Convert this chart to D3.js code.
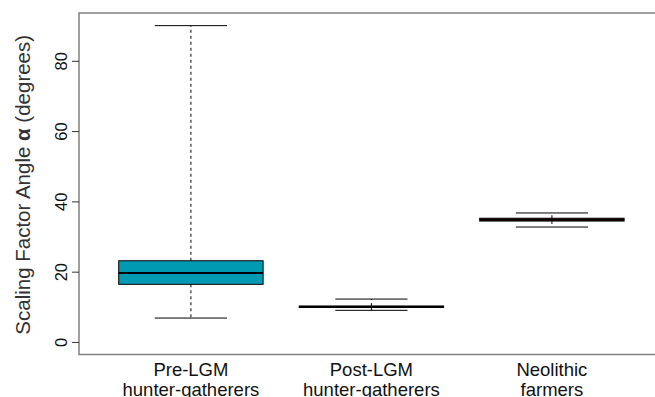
<!DOCTYPE html>
<html>
<head>
<meta charset="utf-8">
<script src="https://cdn.jsdelivr.net/npm/d3@7"></script>
<style>
  body { margin: 0; background: #fff; }
  svg { display: block; font-family: "Liberation Sans", Arial, Helvetica, sans-serif; }
</style>
</head>
<body>
<div id="chart"></div>
<script>
// groups on the x axis (two label lines each)
const groups = ["Pre-LGM", "Post-LGM", "Neolithic"];
const groupLine2 = ["hunter-gatherers", "hunter-gatherers", "farmers"];
// boxplot stats (degrees)
const whiskerLow = [6.8, 9.0, 32.7];
const q1 = [16.4, 9.8, 34.4];
const median = [19.6, 10.0, 34.8];
const q3 = [23.1, 10.2, 35.2];
const whiskerHigh = [90, 12.2, 36.7];
const fills = ["#009bb3", "#e3a11c", "#8e1212"];
const yTicks = [0, 20, 40, 60, 80];

const width = 655, height = 397;
const frame = { left: 79, top: 13, bottom: 354.6 };

const svg = d3.select("#chart").append("svg")
  .attr("width", width)
  .attr("height", height);

// R style: data range padded by 4% on each side
const x = d3.scaleLinear().domain([0.38, 3.62]).range([frame.left, frame.left + 3.24 * 180.5]);
const y = d3.scaleLinear().domain([-3.6, 93.6]).range([frame.bottom, frame.top]);

const data = groups.map((g, i) => ({
  i: i + 1, lo: whiskerLow[i], q1: q1[i], med: median[i], q3: q3[i], hi: whiskerHigh[i], fill: fills[i]
}));

// frame (right side is off the page)
svg.append("path")
  .attr("d", `M${width + 5},${frame.top}H${frame.left}V${frame.bottom}H${width + 5}`)
  .attr("fill", "none")
  .attr("stroke", "#808080")
  .attr("stroke-width", 1.5);

// y axis with rotated labels
const gy = svg.append("g")
  .attr("transform", `translate(${frame.left},0)`)
  .call(d3.axisLeft(y).tickValues(yTicks).tickSize(7).tickSizeOuter(0));
gy.select(".domain").remove();
gy.selectAll(".tick line").attr("stroke", "#333");
gy.selectAll(".tick text")
  .attr("x", 0).attr("y", -12).attr("dy", 0)
  .attr("transform", "rotate(-90)")
  .attr("text-anchor", "middle")
  .attr("font-size", 16.5)
  .attr("fill", "#111");

// y title
const title = svg.append("text")
  .attr("transform", `translate(30,${(frame.top + frame.bottom) / 2 + 1}) rotate(-90)`)
  .attr("text-anchor", "middle")
  .attr("font-size", 20.5)
  .attr("fill", "#333");
title.append("tspan").text("Scaling Factor Angle ");
title.append("tspan").attr("font-weight", "bold").text("α");
title.append("tspan").text(" (degrees)");

// x labels
const gx = svg.append("g");
gx.selectAll("text.l1").data(groups).join("text")
  .attr("class", "l1")
  .attr("x", (d, i) => x(i + 1)).attr("y", 376)
  .attr("text-anchor", "middle").attr("font-size", 18.5)
  .attr("fill", "#111")
  .text(d => d);
gx.selectAll("text.l2").data(groupLine2).join("text")
  .attr("class", "l2")
  .attr("x", (d, i) => x(i + 1)).attr("y", 396)
  .attr("text-anchor", "middle").attr("font-size", 18.5)
  .attr("fill", "#111")
  .text(d => d);

const boxW = 0.8, capW = 0.4;
const boxes = svg.append("g").selectAll("g").data(data).join("g");

// dashed whiskers
boxes.append("line")
  .attr("x1", d => x(d.i)).attr("x2", d => x(d.i))
  .attr("y1", d => y(d.q3)).attr("y2", d => y(d.hi))
  .attr("stroke", "#000").attr("stroke-dasharray", "3,3");
boxes.append("line")
  .attr("x1", d => x(d.i)).attr("x2", d => x(d.i))
  .attr("y1", d => y(d.q1)).attr("y2", d => y(d.lo))
  .attr("stroke", "#000").attr("stroke-dasharray", "3,3");

// caps
boxes.selectAll("line.cap").data(d => [d.lo, d.hi].map(v => ({ i: d.i, v }))).join("line")
  .attr("class", "cap")
  .attr("x1", d => x(d.i - capW / 2)).attr("x2", d => x(d.i + capW / 2))
  .attr("y1", d => y(d.v)).attr("y2", d => y(d.v))
  .attr("stroke", "#000");

// box
boxes.append("rect")
  .attr("x", d => x(d.i - boxW / 2))
  .attr("width", d => x(d.i + boxW / 2) - x(d.i - boxW / 2))
  .attr("y", d => y(d.q3))
  .attr("height", d => y(d.q1) - y(d.q3))
  .attr("fill", d => d.fill)
  .attr("stroke", "#000");

// median
boxes.append("line")
  .attr("x1", d => x(d.i - boxW / 2)).attr("x2", d => x(d.i + boxW / 2))
  .attr("y1", d => y(d.med)).attr("y2", d => y(d.med))
  .attr("stroke", "#000").attr("stroke-width", 2);
</script>
</body>
</html>
